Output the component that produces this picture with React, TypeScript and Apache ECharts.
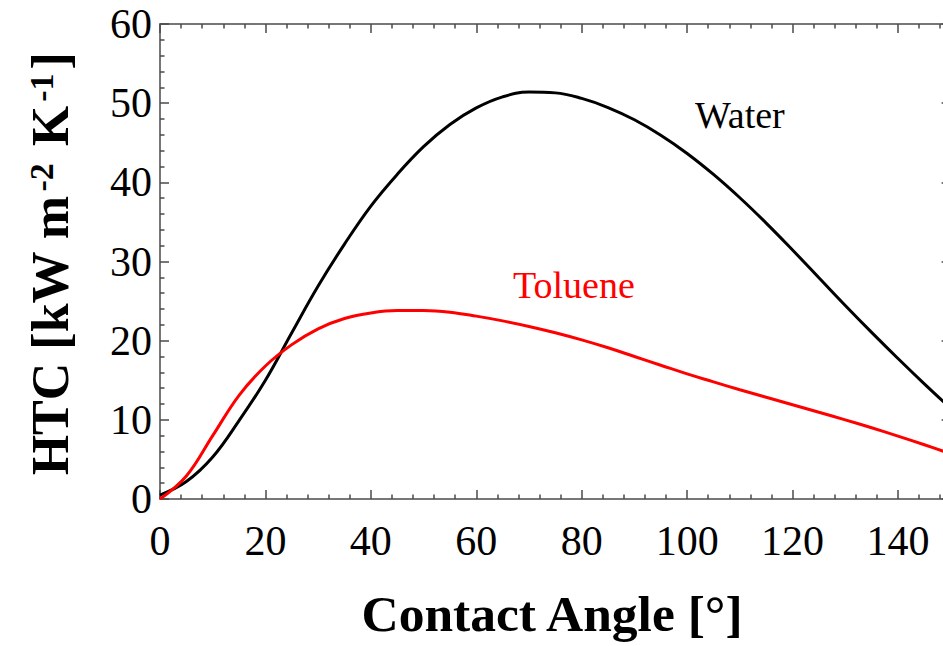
import React, { useEffect, useRef } from "react";
import * as echarts from "echarts";

// Contact angle in degrees
const contactAngle = [
  0, 5, 10, 15, 20, 25, 30, 35, 40, 45, 50, 55, 60, 65, 70, 75, 80, 85, 90, 95,
  100, 105, 110, 115, 120, 125, 130, 135, 140, 145, 150,
];

// Heat transfer coefficient, kW m^-2 K^-1
const waterHTC = [
  0.5, 2.2, 5.3, 9.9, 15.0, 21.0, 26.9, 32.2, 37.0, 41.0, 44.5, 47.3, 49.4,
  50.8, 51.4, 51.3, 50.6, 49.45, 47.9, 45.95, 43.65, 41.0, 38.05, 34.85, 31.45,
  27.95, 24.45, 21.05, 17.75, 14.55, 11.45,
];

const tolueneHTC = [
  0.0, 2.9, 8.0, 13.1, 16.8, 19.5, 21.5, 22.8, 23.5, 23.8, 23.8, 23.6, 23.1,
  22.5, 21.8, 21.0, 20.1, 19.1, 18.0, 16.9, 15.8, 14.8, 13.8, 12.85, 11.9,
  10.95, 10.0, 9.0, 7.95, 6.85, 5.7,
];

const xTickStep = 20;
const yTickStep = 10;

const SERIF = "'Liberation Serif', 'Times New Roman', serif";
const FRAME = "#4a4a4a";

const pairs = (ys: number[]) => contactAngle.map((x, i) => [x, ys[i]]);

export default function App() {
  const ref = useRef<HTMLDivElement>(null);

  useEffect(() => {
    if (!ref.current) return;
    const chart = echarts.init(ref.current, null, { renderer: "svg" });

    const frameLine = { color: FRAME, width: 1.5 };
    const baseX = {
      type: "value" as const,
      min: 0,
      max: 160,
      interval: xTickStep,
      axisLine: { show: true, onZero: false, lineStyle: frameLine },
      axisTick: { show: true, inside: true, length: 9, lineStyle: frameLine },
      minorTick: { show: true, splitNumber: 5, length: 4.5, lineStyle: frameLine },
      splitLine: { show: false },
      minorSplitLine: { show: false },
    };
    const baseY = {
      type: "value" as const,
      min: 0,
      max: 60,
      interval: yTickStep,
      axisLine: { show: true, onZero: false, lineStyle: frameLine },
      axisTick: { show: true, inside: true, length: 9, lineStyle: frameLine },
      minorTick: { show: true, splitNumber: 5, length: 4.5, lineStyle: frameLine },
      splitLine: { show: false },
      minorSplitLine: { show: false },
    };

    chart.setOption({
      animation: false,
      backgroundColor: "#ffffff",
      grid: { left: 160, top: 24, width: 843.4, height: 475, containLabel: false },
      xAxis: [
        {
          ...baseX,
          position: "bottom",
          axisLabel: {
            show: true,
            fontFamily: SERIF,
            fontSize: 42,
            color: "#000",
            margin: 21,
            showMaxLabel: false,
          },
        },
        { ...baseX, position: "top", axisLabel: { show: false } },
      ],
      yAxis: [
        {
          ...baseY,
          position: "left",
          axisLabel: {
            show: true,
            fontFamily: SERIF,
            fontSize: 42,
            color: "#000",
            margin: 8,
          },
        },
        { ...baseY, position: "right", offset: -52.8, axisLabel: { show: false } },
      ],
      series: [
        {
          name: "Water",
          type: "line",
          xAxisIndex: 0,
          yAxisIndex: 0,
          data: pairs(waterHTC),
          smooth: 0.4,
          showSymbol: false,
          lineStyle: { color: "#000000", width: 3 },
          itemStyle: { color: "#000000" },
        },
        {
          name: "Toluene",
          type: "line",
          xAxisIndex: 0,
          yAxisIndex: 0,
          data: pairs(tolueneHTC),
          smooth: 0.4,
          showSymbol: false,
          lineStyle: { color: "#ff0000", width: 3 },
          itemStyle: { color: "#ff0000" },
        },
      ],
      graphic: [
        {
          type: "text",
          left: 695,
          top: 96,
          style: {
            text: "Water",
            fontFamily: SERIF,
            fontSize: 38,
            fill: "#000",
          },
        },
        {
          type: "text",
          left: 513,
          top: 266,
          style: {
            text: "Toluene",
            fontFamily: SERIF,
            fontSize: 38,
            fill: "#ff0000",
          },
        },
        {
          type: "text",
          x: 552,
          y: 613,
          style: {
            text: "Contact Angle [°]",
            fontFamily: SERIF,
            fontWeight: "bold",
            fontSize: 51.5,
            fill: "#000",
            align: "center",
            verticalAlign: "middle",
          },
        },
        {
          type: "text",
          x: 50,
          y: 264,
          rotation: Math.PI / 2,
          style: {
            text: "HTC [kW m{sup|-2} K{sup|-1}]",
            fontFamily: SERIF,
            fontWeight: "bold",
            fontSize: 52,
            fill: "#000",
            align: "center",
            verticalAlign: "middle",
            rich: {
              sup: {
                fontFamily: SERIF,
                fontWeight: "bold",
                fontSize: 34,
                fill: "#000",
                verticalAlign: "top",
                padding: [0, 4, 0, 4],
              },
            },
          },
        },
      ],
    });

    return () => chart.dispose();
  }, []);

  return (
    <div
      style={{
        position: "absolute",
        left: 0,
        top: 0,
        width: 943,
        height: 646,
        overflow: "hidden",
        background: "#fff",
      }}
    >
      <div ref={ref} style={{ width: 1010, height: 646 }} />
    </div>
  );
}
